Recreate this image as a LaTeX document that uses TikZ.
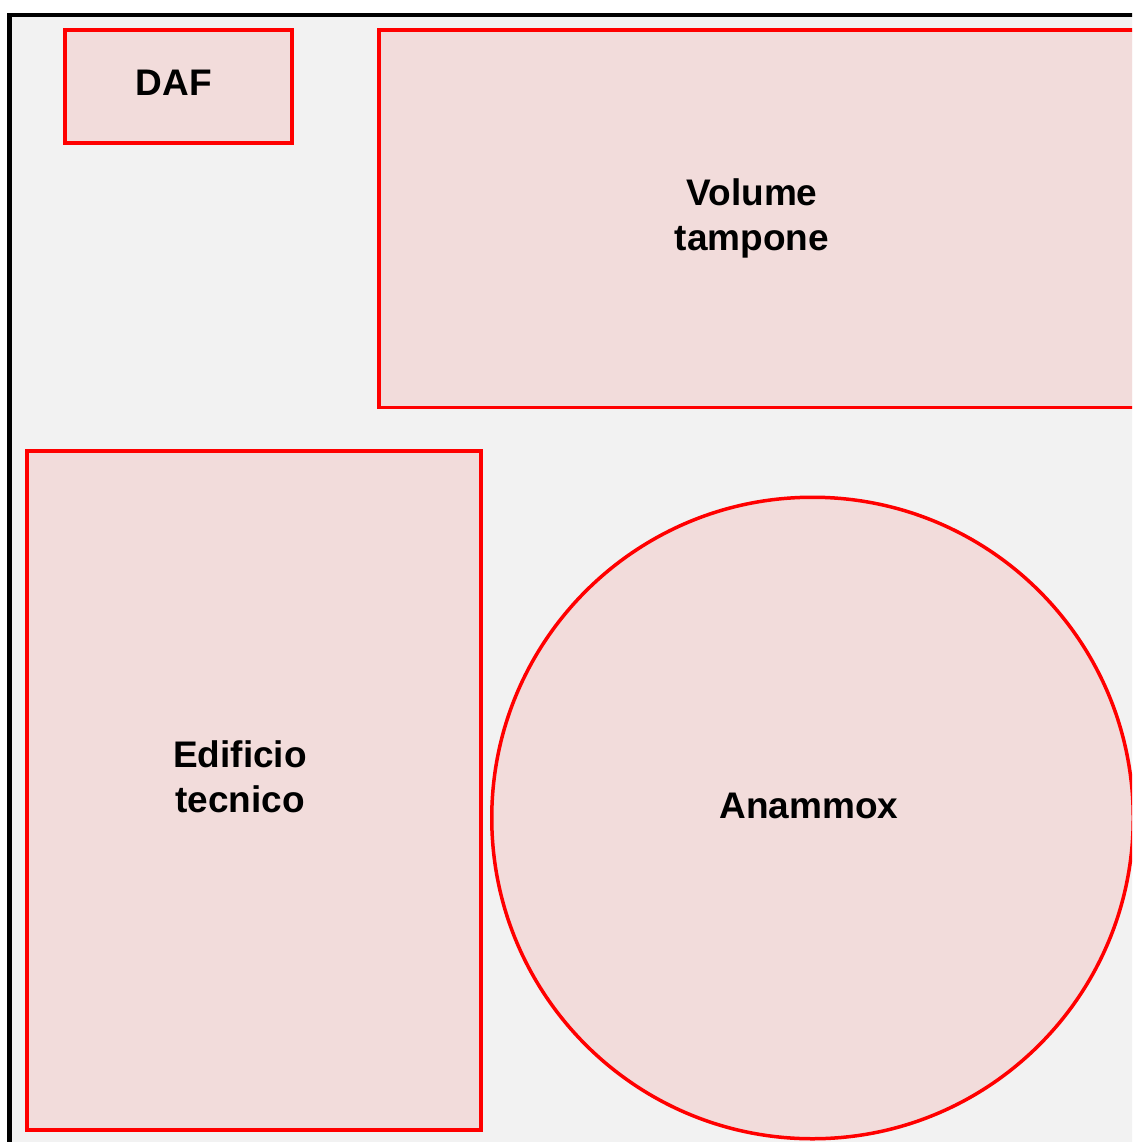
\documentclass[tikz,border=0pt]{standalone}
\usepackage{fontspec}
\setmainfont{Liberation Sans}
\definecolor{siteground}{HTML}{F2F2F2}
\definecolor{zonefill}{HTML}{F2DCDB}
\definecolor{zoneline}{HTML}{FF0000}
\begin{document}
\begin{tikzpicture}[x=1pt,y=-1pt,
  zone/.style={draw=zoneline, fill=zonefill, line width=3.5pt, inner sep=0pt, outer sep=0pt},
  box/.style={zone, rectangle, anchor=north west},
  tank/.style={zone, circle},
  lbl/.style={font=\fontsize{37}{45}\selectfont\bfseries, align=center, inner sep=0pt, anchor=base}]
  % page area
  \useasboundingbox (0,0) rectangle (1132,1142);
  \clip (0,0) rectangle (1132,1142);
  \fill[white] (0,0) rectangle (1132,1142);
  % site boundary
  \draw[line width=4.5pt, fill=siteground] (9.5,15) rectangle (1160,1170);
  % plant units
  \node[box, minimum width=227pt, minimum height=113pt] (daf) at (65,29.8) {};
  \node[box, minimum width=800pt, minimum height=377.5pt] (buffer) at (379,30) {};
  \node[box, minimum width=454pt, minimum height=679pt] (building) at (27,451) {};
  \node[tank, minimum size=641.5pt] (anammox) at (812.5,818) {};
  % unit labels (base of a two-line label is its last line)
  \node[lbl] (daf-label) at (174,96) {DAF};
  \node[lbl] (buffer-label) at (752,250) {Volume\\tampone};
  \node[lbl] (building-label) at (240,812) {Edificio\\tecnico};
  \node[lbl] (anammox-label) at (809,818) {Anammox};
\end{tikzpicture}
\end{document}
